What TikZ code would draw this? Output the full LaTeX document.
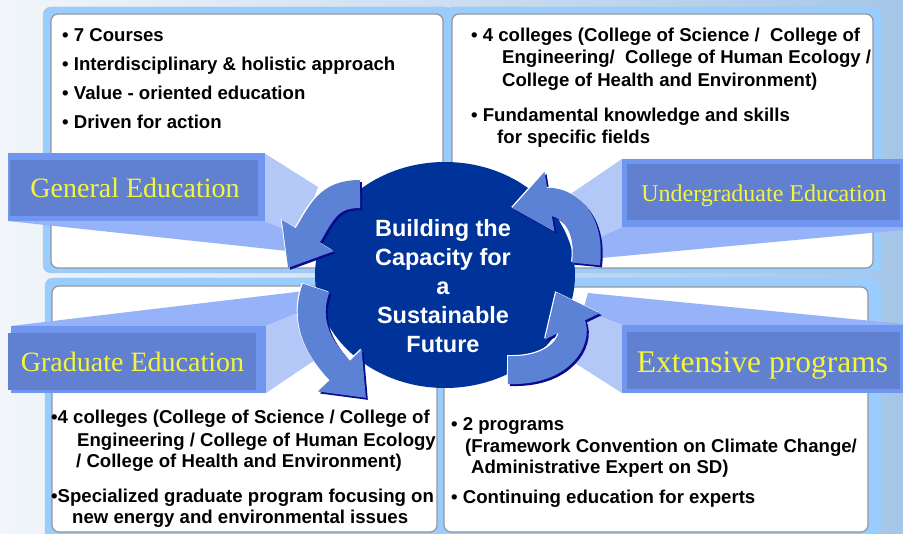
\documentclass[tikz,border=0pt]{standalone}
\usepackage{fontspec}
\setmainfont{Liberation Serif}
\setsansfont{Liberation Sans}
\usetikzlibrary{arrows.meta,shapes.geometric}

\definecolor{bgleft}{RGB}{242,246,250}
\definecolor{bgright}{RGB}{165,198,232}
\definecolor{panelblue}{RGB}{153,204,255}
\definecolor{panelline}{RGB}{150,150,150}
\definecolor{boxedge}{RGB}{112,150,240}
\definecolor{boxfill}{RGB}{98,128,208}
\definecolor{facelight}{RGB}{180,200,248}
\definecolor{facemid}{RGB}{150,178,248}
\definecolor{labelyellow}{RGB}{245,245,60}
\definecolor{hubblue}{RGB}{0,51,153}
\definecolor{cycblue}{RGB}{92,130,214}
\definecolor{cycshade}{RGB}{10,10,140}

\tikzset{
  panel/.style={fill=panelblue, draw=panelline!60, rounded corners=8pt},
  card/.style={fill=white, draw=panelline, line width=1.2pt, rounded corners=7pt},
  bullet/.style={anchor=base west, inner sep=0pt, font=\sffamily\bfseries\fontsize{18.6}{22}\selectfont},
  tag/.style={anchor=base, inner sep=0pt, text=labelyellow},
  hubtext/.style={anchor=base, inner sep=0pt, text=white, font=\sffamily\bfseries\fontsize{23.5}{28}\selectfont},
  cyc/.style={line width=28pt, -{Triangle[width=58pt,length=38pt]}},
}

\begin{document}
\begin{tikzpicture}[x=1pt,y=-1pt]
\useasboundingbox (0,0) rectangle (903,534);
\shade[left color=bgleft, right color=bgright] (0,0) rectangle (903,534);

% four panels
\draw[panel] (43,7) rectangle (452,273);
\draw[panel] (445,7) rectangle (882,273);
\draw[panel] (45,278) rectangle (445,548);
\draw[panel] (437,278) rectangle (882,548);
\draw[card] (51,14) rectangle (443,268);
\draw[card] (452,14) rectangle (873,268);
\draw[card] (52,286) rectangle (437,532);
\draw[card] (444,287) rectangle (868,532);

% panel texts
\node[bullet] (gen1) at (62,42) {• 7 Courses};
\node[bullet] (gen2) at (62,71) {• Interdisciplinary \& holistic approach};
\node[bullet] (gen3) at (62,100) {• Value - oriented education};
\node[bullet] (gen4) at (62,129) {• Driven for action};

\node[bullet] (und1) at (471,42) {• 4 colleges (College of Science /\ \ College of};
\node[bullet] (und2) at (502,64) {Engineering/\ \ College of Human Ecology /};
\node[bullet] (und3) at (502,87) {College of Health and Environment)};
\node[bullet] (und4) at (471,121.5) {• Fundamental knowledge and skills};
\node[bullet] (und5) at (497,144) {for specific fields};

\node[bullet] (grd1) at (51,424) {•4 colleges (College of Science / College of};
\node[bullet] (grd2) at (77,446.5) {Engineering / College of Human Ecology};
\node[bullet] (grd3) at (76,468) {/ College of Health and Environment)};
\node[bullet] (grd4) at (51,502.5) {•Specialized graduate program focusing on};
\node[bullet] (grd5) at (72,524) {new energy and environmental issues};

\node[bullet] (ext1) at (451,430.5) {• 2 programs};
\node[bullet] (ext2) at (465,453) {(Framework Convention on Climate Change/};
\node[bullet] (ext3) at (471,474) {Administrative Expert on SD)};
\node[bullet] (ext4) at (451,504) {• Continuing education for experts};

% beams towards the centre
\fill[facelight] (264,153) -- (318,187) -- (300,236) -- (264,221) -- cycle;
\fill[facemid] (8,221) -- (264,221) -- (300,236) -- (297,252) -- cycle;
\fill[facelight] (622,159) -- (572,193) -- (582,246) -- (622,227) -- cycle;
\fill[facemid] (622,227) -- (903,227) -- (903,230) -- (580,260) -- (582,246) -- cycle;
\fill[facemid] (11,326) -- (313,290) -- (298,313) -- (266,326) -- cycle;
\fill[facelight] (266,326) -- (298,313) -- (318,358) -- (266,393) -- cycle;
\fill[facemid] (622,325) -- (583,310) -- (588,293) -- (903,324) -- (903,325) -- cycle;
\fill[facelight] (622,325) -- (583,310) -- (567,358) -- (622,393) -- cycle;

% label boxes
\fill[boxedge] (8,153) rectangle (265,221);
\fill[boxfill] (10,160) rectangle (258,216);
\fill[boxedge] (622,159) rectangle (903,227);
\fill[boxfill] (627,164) rectangle (900,220);
\fill[boxedge] (11,326) rectangle (266,393);
\fill[boxfill] (8,333) rectangle (256,390);
\fill[boxedge] (622,325) rectangle (903,393);
\fill[boxfill] (627,332) rectangle (900,389);

\node[tag, font=\fontsize{28}{30}\selectfont] (gen) at (135,198) {General Education};
\node[tag, font=\fontsize{24}{26}\selectfont] (und) at (764,202) {Undergraduate Education};
\node[tag, font=\fontsize{28}{30}\selectfont] (grd) at (132.5,372) {Graduate Education};
\node[tag, font=\fontsize{31.5}{33}\selectfont] (ext) at (762.5,373) {Extensive programs};

% centre
\node[ellipse, fill=hubblue, minimum width=260pt, minimum height=226pt, inner sep=0pt] (hub) at (445,275) {};

% cycle arrows: shadow, highlight, body
\foreach \dx/\dy/\col in {2/2/cycshade, -1/-1/white, 0/0/cycblue} {
  \begin{scope}[shift={(\dx,\dy)}, cyc, \col]
    \draw (360,194) .. controls (328,194) and (322,212) .. (288,268);
    \draw (316,288) .. controls (303,325) and (322,352) .. (366,398);
    \draw (508,370) .. controls (562,372) and (578,338) .. (556,292);
    \draw (586,264) .. controls (592,214) and (560,200) .. (512,208);
  \end{scope}
}

\foreach \ln [count=\i] in {Building the, Capacity for, a, Sustainable, Future}
  \node[hubtext] (hub\i) at (443,{237+29*(\i-1)}) {\ln};
\end{tikzpicture}
\end{document}
